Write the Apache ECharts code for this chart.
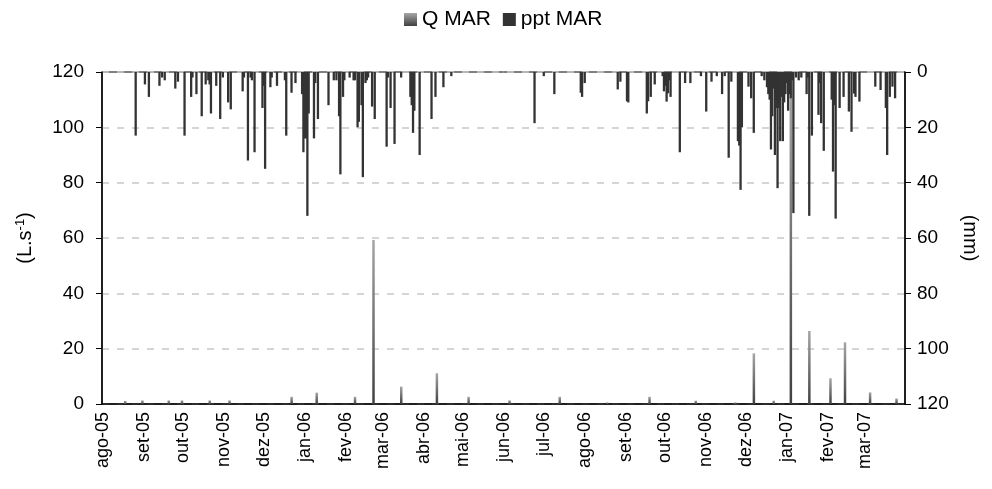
<!DOCTYPE html>
<html lang="pt">
  <head>
    <meta charset="utf-8" />
    <script src="https://cdn.jsdelivr.net/npm/echarts@6/dist/echarts.min.js"></script>
  </head>
  <body style="margin: 0">
    <div id="container" style="width: 992px; height: 489px"></div>
    <script type="text/javascript">
      // daily series from ago-05 to mar-07
      var startDate = Date.UTC(2005, 7, 1);
      var endDate = Date.UTC(2007, 3, 1);
      var monthNames = ["jan", "fev", "mar", "abr", "mai", "jun", "jul", "ago", "set", "out", "nov", "dez"];

      // Q MAR (L.s-1), days with flow
      var qDates = [
        "2005-08-18", "2005-08-31", "2005-09-20", "2005-09-30", "2005-10-21", "2005-11-05",
        "2005-12-22", "2006-01-10", "2006-02-08", "2006-02-22", "2006-03-15", "2006-04-11",
        "2006-05-05", "2006-06-05", "2006-07-13", "2006-08-18", "2006-09-19", "2006-10-24",
        "2006-11-23", "2006-12-07", "2006-12-22", "2007-01-04", "2007-01-18", "2007-02-03",
        "2007-02-14", "2007-03-05", "2007-03-25"
      ];
      var qValues = [
        1.1, 1.3, 1.3, 1.3, 1.3, 1.3,
        2.6, 4.1, 2.6, 59.3, 6.3, 11.1,
        2.6, 1.3, 2.6, 0.6, 2.6, 1.2,
        0.6, 18.3, 1.2, 118, 26.4, 9.3,
        22.3, 4.2, 2
      ];

      // ppt MAR (mm), rainy days
      var pptDates = [
        "2005-08-26",
        "2005-09-02", "2005-09-05", "2005-09-13", "2005-09-15", "2005-09-17", "2005-09-25", "2005-09-27",
        "2005-10-02", "2005-10-07", "2005-10-08", "2005-10-11", "2005-10-15", "2005-10-18", "2005-10-20",
        "2005-10-21", "2005-10-22", "2005-10-26", "2005-10-29", "2005-10-31",
        "2005-11-04", "2005-11-06", "2005-11-15", "2005-11-16", "2005-11-19", "2005-11-21", "2005-11-22",
        "2005-11-24", "2005-11-30",
        "2005-12-01", "2005-12-02", "2005-12-06", "2005-12-07", "2005-12-11", "2005-12-17", "2005-12-18",
        "2005-12-22", "2005-12-25", "2005-12-30", "2005-12-31",
        "2006-01-01", "2006-01-02", "2006-01-03", "2006-01-04", "2006-01-08", "2006-01-09", "2006-01-11",
        "2006-01-19", "2006-01-23", "2006-01-25", "2006-01-27", "2006-01-28", "2006-01-30", "2006-01-31",
        "2006-02-04", "2006-02-07", "2006-02-08", "2006-02-10", "2006-02-11", "2006-02-13", "2006-02-14",
        "2006-02-16", "2006-02-17", "2006-02-18", "2006-02-21", "2006-02-23",
        "2006-03-04", "2006-03-05", "2006-03-07", "2006-03-10", "2006-03-15", "2006-03-22", "2006-03-23",
        "2006-03-24", "2006-03-25", "2006-03-29",
        "2006-04-07", "2006-04-10", "2006-04-16", "2006-04-22",
        "2006-06-24",
        "2006-07-01", "2006-07-09", "2006-07-29", "2006-07-30",
        "2006-08-01", "2006-08-26", "2006-08-28",
        "2006-09-02", "2006-09-03", "2006-09-17", "2006-09-18", "2006-09-20", "2006-09-23", "2006-09-29",
        "2006-09-30",
        "2006-10-01", "2006-10-02", "2006-10-03", "2006-10-04", "2006-10-05", "2006-10-12", "2006-10-16",
        "2006-10-20", "2006-10-28",
        "2006-11-01", "2006-11-05", "2006-11-09", "2006-11-13", "2006-11-15", "2006-11-18", "2006-11-20",
        "2006-11-25", "2006-11-26", "2006-11-27", "2006-11-28",
        "2006-12-03", "2006-12-05", "2006-12-07", "2006-12-13", "2006-12-15", "2006-12-17", "2006-12-18",
        "2006-12-19", "2006-12-20", "2006-12-21", "2006-12-22", "2006-12-23", "2006-12-24", "2006-12-25",
        "2006-12-26", "2006-12-27", "2006-12-28", "2006-12-29", "2006-12-30", "2006-12-31",
        "2007-01-01", "2007-01-02", "2007-01-03", "2007-01-04", "2007-01-05", "2007-01-06", "2007-01-08",
        "2007-01-10", "2007-01-12", "2007-01-16", "2007-01-17", "2007-01-18", "2007-01-20", "2007-01-25",
        "2007-01-26", "2007-01-27", "2007-01-29",
        "2007-02-04", "2007-02-05", "2007-02-06", "2007-02-07", "2007-02-10", "2007-02-13", "2007-02-17",
        "2007-02-19", "2007-02-21", "2007-02-22", "2007-02-25",
        "2007-03-09", "2007-03-13", "2007-03-17", "2007-03-18", "2007-03-20", "2007-03-22", "2007-03-24"
      ];
      var pptValues = [
        23,
        4.5, 9, 5, 2, 3, 6, 3.5,
        23, 9, 2, 8, 16, 4.5, 3,
        4.5, 15, 5, 17, 2,
        11, 13.5, 7, 2, 32, 2, 3,
        29, 13,
        5, 35, 5.5, 2, 5, 3, 23,
        7.5, 4, 8, 29,
        24, 24, 52, 15, 24, 4, 17,
        12, 3, 3, 16, 37, 9, 3,
        2, 3, 3, 20, 18, 12, 38,
        4, 3, 2, 12.5, 17,
        27, 2, 13, 26, 2, 9, 12,
        22, 14, 30,
        17, 9, 5.5, 1.5,
        18.5,
        1.5, 8, 7.5, 9,
        4, 6.3, 3.5,
        10.6, 11, 15, 10.6, 9, 4.5, 1.5,
        7,
        5, 10.7, 7.7, 3, 9, 29, 4,
        4, 1.5,
        14.3, 3.5, 1.5, 8, 1.5, 31, 3.5,
        25, 26.6, 42.6, 20,
        5.3, 9.5, 22, 1.5, 3, 5.5, 8,
        10, 28, 16, 6, 30, 13, 42,
        13, 25, 9, 25, 11, 8,
        4, 14, 8, 9.5, 3, 51, 2,
        3, 2, 8, 2, 52, 23, 15.5,
        4, 18.5, 28.5,
        10, 36, 12, 53, 13, 9, 14.3,
        21.6, 7.8, 9, 10.7,
        5.3, 6.5, 13, 30, 9, 5.3, 9.5
      ];

      function pad(n) {
        return n < 10 ? "0" + n : "" + n;
      }

      var days = [];
      for (var t = startDate; t < endDate; t += 86400000) {
        var d = new Date(t);
        days.push(d.getUTCFullYear() + "-" + pad(d.getUTCMonth() + 1) + "-" + pad(d.getUTCDate()));
      }

      function toDaily(dates, values) {
        var map = {};
        dates.forEach(function (d, i) {
          map[d] = values[i];
        });
        return days.map(function (d) {
          return map[d] !== undefined ? map[d] : 0;
        });
      }

      var qDaily = toDaily(qDates, qValues);
      var pptDaily = toDaily(pptDates, pptValues);

      function isMonthStart(index, value) {
        return value.slice(8) === "01";
      }

      var font = "Liberation Sans, Arial, sans-serif";
      var myChart = echarts.init(document.getElementById("container"), null, { renderer: "canvas" });

      var option = {
        animation: false,
        textStyle: { fontFamily: font, color: "#000" },
        legend: {
          top: 4,
          left: 399,
          icon: "rect",
          itemWidth: 13,
          itemHeight: 13,
          itemGap: 12,
          textStyle: { fontSize: 21, fontFamily: font, color: "#000" },
          data: ["Q MAR", "ppt MAR"],
        },
        grid: {
          left: 102,
          right: 87,
          top: 72,
          bottom: 85,
          show: true,
          borderColor: "#000",
          borderWidth: 1,
        },
        xAxis: {
          type: "category",
          data: days,
          axisLine: { lineStyle: { color: "#000", width: 1.5 } },
          axisTick: { interval: isMonthStart, length: 7, lineStyle: { color: "#000" } },
          axisLabel: {
            interval: isMonthStart,
            rotate: 90,
            fontSize: 18,
            margin: 8,
            color: "#000",
            fontFamily: font,
            formatter: function (v) {
              return monthNames[parseInt(v.slice(5, 7), 10) - 1] + "-" + v.slice(2, 4);
            },
          },
          splitLine: { show: false },
        },
        yAxis: [
          {
            type: "value",
            min: 0,
            max: 120,
            interval: 20,
            name: "(L.s{sup|-1})",
            nameLocation: "middle",
            nameRotate: 90,
            nameGap: 66,
            nameTextStyle: {
              fontSize: 20,
              fontFamily: font,
              color: "#000",
              rich: { sup: { fontSize: 13, verticalAlign: "top", fontFamily: font, padding: [0, 0, 9, 0] } },
            },
            axisLine: { show: true, lineStyle: { color: "#000", width: 1.5 } },
            axisTick: { show: true, length: 6, lineStyle: { color: "#000" } },
            axisLabel: { fontSize: 19, margin: 18, color: "#000", fontFamily: font },
            splitLine: { lineStyle: { color: "#c8c8c8", width: 1.5, type: [7, 8] } },
          },
          {
            type: "value",
            min: 0,
            max: 120,
            interval: 20,
            inverse: true,
            position: "right",
            name: "(mm)",
            nameLocation: "middle",
            nameRotate: -90,
            nameGap: 45,
            nameTextStyle: { fontSize: 20, fontFamily: font, color: "#000" },
            axisLine: { show: true, lineStyle: { color: "#000", width: 1.5 } },
            axisTick: { show: true, length: 6, lineStyle: { color: "#000" } },
            axisLabel: { fontSize: 19, margin: 12, color: "#000", fontFamily: font },
            splitLine: { show: false },
          },
        ],
        series: [
          {
            name: "Q MAR",
            type: "bar",
            yAxisIndex: 0,
            data: qDaily,
            barWidth: 2.5,
            barGap: "-100%",
            itemStyle: {
              color: new echarts.graphic.LinearGradient(0, 0, 0, 1, [
                { offset: 0, color: "#a6a6a6" },
                { offset: 1, color: "#404040" },
              ]),
            },
          },
          {
            name: "ppt MAR",
            type: "bar",
            yAxisIndex: 1,
            data: pptDaily,
            barWidth: 2.3,
            barGap: "-100%",
            itemStyle: { color: "#333333" },
          },
        ],
      };

      myChart.setOption(option);
    </script>
  </body>
</html>
